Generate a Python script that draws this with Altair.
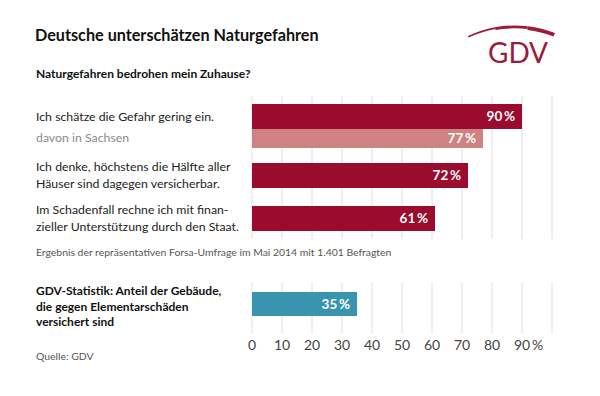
import altair as alt
import pandas as pd

# ---- data ----
title_text = "Deutsche unterschätzen Naturgefahren"
subtitle_text = "Naturgefahren bedrohen mein Zuhause?"
categories = [
    ["Ich schätze die Gefahr gering ein."],
    ["davon in Sachsen"],
    ["Ich denke, höchstens die Hälfte aller", "Häuser sind dagegen versicherbar."],
    ["Im Schadenfall rechne ich mit finan-", "zieller Unterstützung durch den Staat."],
    ["GDV-Statistik: Anteil der Gebäude,", "die gegen Elementarschäden", "versichert sind"],
]
values = [90, 77, 72, 61, 35]
note_text = "Ergebnis der repräsentativen Forsa-Umfrage im Mai 2014 mit 1.401 Befragten"
source_text = "Quelle: GDV"
tick_values = [0, 10, 20, 30, 40, 50, 60, 70, 80, 90]
grid_values = [0, 10, 20, 30, 40, 50, 60, 70, 80, 90, 100]
logo_text = "GDV"

# ---- styles / layout (page coords minus 8px margin) ----
FONT = "Lato"
DARK = "#9a0b2e"
LIGHT = "#cf8282"
TEAL = "#3895ad"
LOGO = "#9b1b3a"
bar_colors = [DARK, LIGHT, DARK, DARK, TEAL]
bar_y = [(96, 121), (121, 140), (155, 180), (198, 223), (284, 308)]
label_y = [109, 130, 159, 202, 283]          # first-line centres
label_color = ["#222222", "#8a8a8a", "#222222", "#222222", "#111111"]
label_weight = ["normal", "normal", "normal", "normal", "bold"]
label_size = [12.3, 12.3, 12.3, 12.3, 12]
label_lh = [17, 17, 17, 17, 15.5]

xscale = alt.Scale(domain=[0, 100], range=[244, 544])

one = pd.DataFrame({"k": [0]})
grid_df = pd.DataFrame({"v": grid_values})
tick_df = pd.DataFrame({"v": tick_values,
                        "t": [str(v) for v in tick_values]})

layers = []

# grid lines (two sections)
for (y0, y1) in [(88, 231), (274, 326)]:
    layers.append(
        alt.Chart(grid_df).mark_rule(color="#dedede", strokeWidth=1).encode(
            x=alt.X("v:Q", scale=xscale, axis=None),
            y=alt.value(y0), y2=alt.value(y1))
    )

# bars + value labels + category labels
for i, v in enumerate(values):
    d = pd.DataFrame({"value": [v]})
    y0, y1 = bar_y[i]
    layers.append(
        alt.Chart(d).mark_bar(color=bar_colors[i], cornerRadius=0).encode(
            x=alt.X("value:Q", scale=xscale, axis=None),
            x2=alt.datum(0),
            y=alt.value(y0), y2=alt.value(y1))
    )
    layers.append(
        alt.Chart(d).transform_calculate(
            lab="format(datum.value, 'd') + '\u2009%'"
        ).mark_text(align="right", baseline="middle", dx=-7, color="white",
                    font=FONT, fontWeight="bold", fontSize=13.5).encode(
            x=alt.X("value:Q", scale=xscale, axis=None),
            y=alt.value((y0 + y1) / 2 + 0.5),
            text="lab:N")
    )
    layers.append(
        alt.Chart(one).mark_text(align="left", baseline="middle", font=FONT,
                                 fontSize=label_size[i], lineHeight=label_lh[i],
                                 fontWeight=label_weight[i],
                                 color=label_color[i]).encode(
            x=alt.value(28), y=alt.value(label_y[i]),
            text=alt.value(categories[i]))
    )

# axis tick labels
layers.append(
    alt.Chart(tick_df).mark_text(align="center", baseline="middle", font=FONT,
                                 fontSize=14, color="#444444").encode(
        x=alt.X("v:Q", scale=xscale, axis=None),
        y=alt.value(338), text="t:N")
)
layers.append(
    alt.Chart(pd.DataFrame({"v": [90]})).mark_text(
        align="left", baseline="middle", font=FONT, fontSize=14,
        color="#444444", dx=10).encode(
        x=alt.X("v:Q", scale=xscale, axis=None),
        y=alt.value(338), text=alt.value("%"))
)

# title, subtitle, notes
def txt(s, x, y, size, weight="normal", color="#111111", align="left", baseline="alphabetic"):
    return alt.Chart(one).mark_text(align=align, baseline=baseline, font=FONT,
                                    fontSize=size, fontWeight=weight,
                                    color=color).encode(
        x=alt.value(x), y=alt.value(y), text=alt.value(s))

layers.append(txt(title_text, 27, 33, 16.2, "bold"))
layers.append(txt(subtitle_text, 28, 70, 12, "bold"))
layers.append(txt(note_text, 28, 245, 10.4, "normal", "#555555", baseline="middle"))
layers.append(txt(source_text, 28, 349, 10.4, "normal", "#555555", baseline="middle"))

# logo: tapered swoosh built from three arc segments + lettering
swoosh = [  # (theta, theta2, thickness)
    (5.8416, 6.10, 1.6),
    (6.10, 6.40, 2.8),
    (6.40, 6.655, 3.8),
]
for th0, th1, w in swoosh:
    layers.append(
        alt.Chart(one).mark_arc(color=LOGO).encode(
            x=alt.value(507), y=alt.value(127.5),
            theta=alt.value(th0), theta2=alt.value(th1),
            radius=alt.value(110), radius2=alt.value(110 - w))
    )
layers.append(txt(logo_text, 510, 55, 28, "normal", LOGO, align="center"))

chart = alt.layer(*layers).properties(
    width=584, height=380,
    autosize=alt.AutoSizeParams(type="none"),
    padding=0,
    background="white",
).configure_view(strokeWidth=0)

chart.save("out.html", embed_options={"renderer": "svg", "actions": False})
